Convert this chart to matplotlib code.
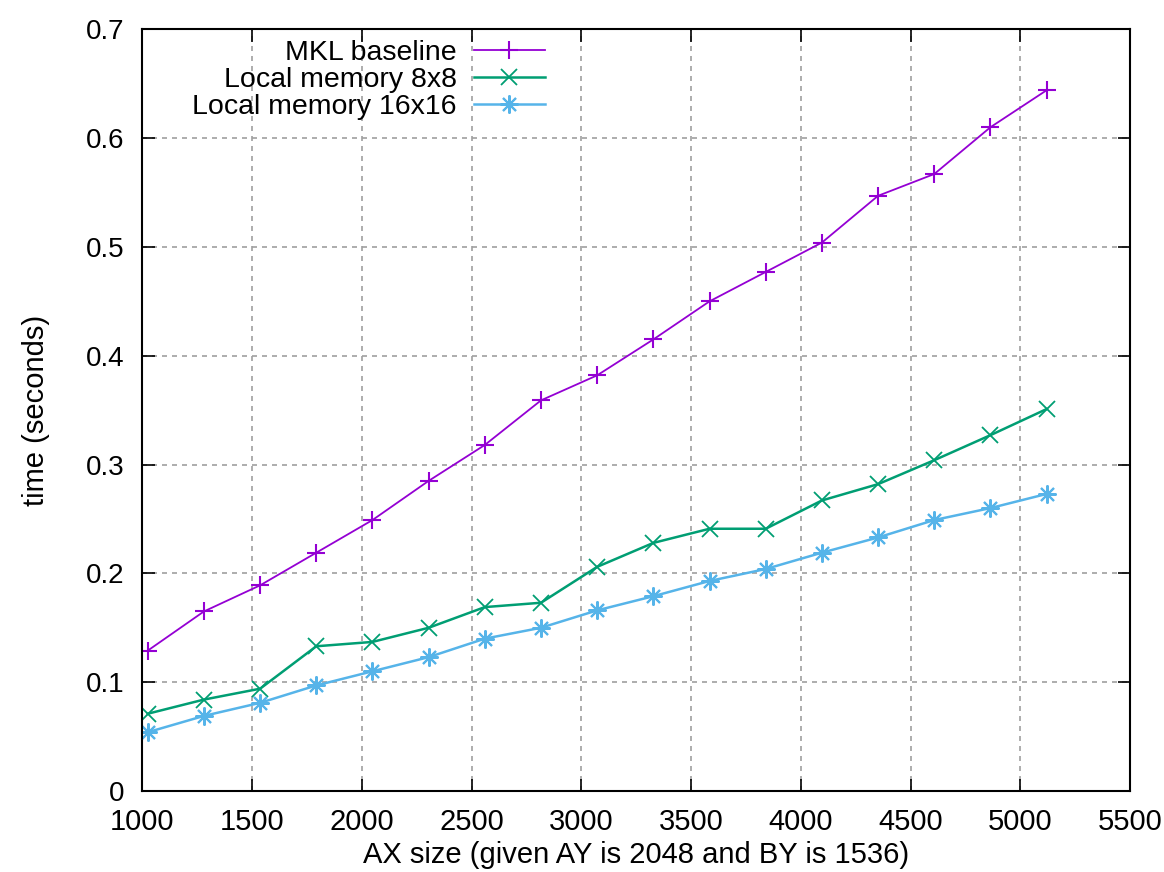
import matplotlib
matplotlib.use("Agg")
import matplotlib.pyplot as plt

# Data
ax_size = [1024, 1280, 1536, 1792, 2048, 2304, 2560, 2816, 3072,
           3328, 3584, 3840, 4096, 4352, 4608, 4864, 5120]
mkl = [0.129, 0.165, 0.189, 0.219, 0.249, 0.285, 0.318, 0.359, 0.382,
       0.415, 0.450, 0.477, 0.504, 0.547, 0.567, 0.610, 0.644]
local_8 = [0.071, 0.084, 0.094, 0.133, 0.137, 0.150, 0.169, 0.173, 0.206,
           0.228, 0.241, 0.241, 0.267, 0.282, 0.304, 0.327, 0.351]
local_16 = [0.054, 0.069, 0.081, 0.097, 0.110, 0.123, 0.140, 0.150, 0.166,
            0.179, 0.193, 0.204, 0.219, 0.233, 0.249, 0.260, 0.273]

labels = ["MKL baseline", "Local memory 8x8", "Local memory 16x16"]
colors = ["#9400d3", "#009e73", "#56b4e9"]

plt.rcParams['font.family'] = ['Liberation Sans', 'DejaVu Sans']
plt.rcParams['font.size'] = 20

fig = plt.figure(figsize=(11.64, 8.72), dpi=100)
ax = fig.add_axes([0.1224, 0.0929, 0.8484, 0.8735])

ax.plot(ax_size, mkl, color=colors[0], lw=1.3, marker='+', ms=13, mew=1.5, label=labels[0])
ax.plot(ax_size, local_8, color=colors[1], lw=1.8, marker='x', ms=11, mew=1.3, label=labels[1])
ax.plot(ax_size, local_16, color=colors[2], lw=1.8, marker=(8, 2, 0), ms=13, mew=1.5, label=labels[2])

ax.set_xlim(1000, 5500)
ax.set_ylim(0, 0.7)
ax.set_xticks(range(1000, 5501, 500))
ax.set_yticks([i / 10 for i in range(8)])
ax.set_yticklabels(["0"] + ["%.1f" % (i / 10) for i in range(1, 8)])

# gnuplot style: dashed grey grid, inward ticks mirrored on all sides
ax.grid(True, color="#a0a0a0", linestyle=(0, (3, 3)), linewidth=1.2)
ax.set_axisbelow(True)
ax.tick_params(direction='in', length=9, width=1.2, top=True, right=True, labelsize=20)
ax.tick_params(axis='y', pad=13)
ax.tick_params(axis='x', pad=12, labelsize=21)
for s in ax.spines.values():
    s.set_linewidth(1.5)

ax.set_xlabel("AX size (given AY is 2048 and BY is 1536)", fontsize=21, labelpad=4)
ax.set_ylabel("time (seconds)", fontsize=21, labelpad=26)

leg = ax.legend(loc='upper left', bbox_to_anchor=(0.03, 1.012), frameon=False, markerfirst=False,
                fontsize=20.5, handlelength=2.5, handletextpad=0.6, labelspacing=0.03,
                borderaxespad=0.3)
for t in leg.get_texts():
    t.set_ha('right')

fig.savefig("out.png", dpi=100)
